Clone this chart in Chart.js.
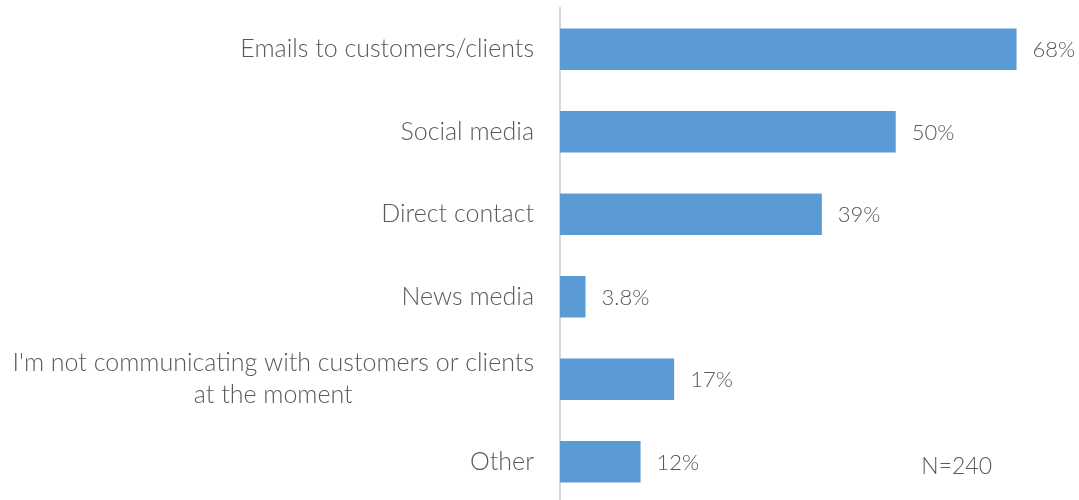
<!DOCTYPE html>
<html>
<head>
<meta charset="utf-8">
<script src="https://cdn.jsdelivr.net/npm/chart.js@4.4.1/dist/chart.umd.min.js"></script>
<style>
  html, body { margin: 0; padding: 0; background: #fff; overflow: hidden; }
  #wrap { position: relative; width: 1079px; height: 504px; }
</style>
</head>
<body>
<div id="wrap"><canvas id="chart"></canvas></div>
<script>
// channels used to reach customers (multi-line names where the label wraps)
const categories = [
  ['Emails to customers/clients'],
  ['Social media'],
  ['Direct contact'],
  ['News media'],
  ["I'm not communicating with customers or clients", 'at the moment'],
  ['Other']
];
const shares = [68, 50, 39, 3.8, 17, 12];
const valueLabels = ['68%', '50%', '39%', '3.8%', '17%', '12%'];
const sampleNote = 'N=240';

const TEXT = '#595959';
const CAT_FONT = '300 25px Lato';
const VAL_FONT = '300 22px Lato';
const NOTE_FONT = '300 23px Lato';

const labelsPlugin = {
  id: 'labels',
  afterDatasetsDraw(chart) {
    const ctx = chart.ctx;
    const area = chart.chartArea;
    const yScale = chart.scales.y;
    const meta = chart.getDatasetMeta(0);
    ctx.save();
    ctx.fillStyle = TEXT;
    ctx.textBaseline = 'middle';

    // category names: block right-aligned to the axis, lines centred inside it
    ctx.font = CAT_FONT;
    ctx.textAlign = 'center';
    categories.forEach((lines, i) => {
      const y = yScale.getPixelForValue(i);
      const w = Math.max(...lines.map(l => ctx.measureText(l).width));
      const cx = area.left - 26 - w / 2;
      lines.forEach((l, j) => ctx.fillText(l, cx, y + (j - (lines.length - 1) / 2) * 32));
    });

    // value at the end of each bar
    ctx.font = VAL_FONT;
    ctx.textAlign = 'left';
    meta.data.forEach((bar, i) => ctx.fillText(valueLabels[i], bar.x + 16, bar.y + 1));

    // sample size note
    ctx.font = NOTE_FONT;
    ctx.textAlign = 'right';
    ctx.fillText(sampleNote, 992, 467);
    ctx.restore();
  }
};

new Chart(document.getElementById('chart'), {
  type: 'bar',
  data: {
    labels: categories.map(c => c.join(' ')),
    datasets: [{
      data: shares,
      backgroundColor: '#5b9bd5',
      categoryPercentage: 1,
      barPercentage: 0.503
    }]
  },
  options: {
    indexAxis: 'y',
    responsive: true,
    maintainAspectRatio: false,
    animation: false,
    events: [],
    layout: { padding: { left: 560, top: 8, right: 0, bottom: 1 } },
    scales: {
      x: { display: false, min: 0, max: 77.3 },
      y: {
        display: true,
        ticks: { display: false },
        grid: { display: false },
        border: { display: true, color: '#d9d9d9', width: 2 },
        afterFit(scale) { scale.width = 0; }
      }
    },
    plugins: { legend: { display: false }, tooltip: { enabled: false } }
  },
  plugins: [labelsPlugin]
});
</script>
</body>
</html>
